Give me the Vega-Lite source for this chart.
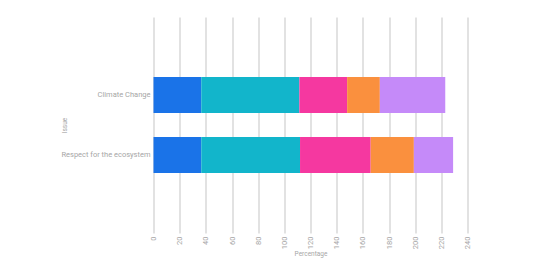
{
  "$schema": "https://vega.github.io/schema/vega-lite/v6.json",
  "width": 314,
  "height": 216,
  "autosize": {"type": "none"},
  "padding": {"left": 153.5, "top": 17, "right": 65.5, "bottom": 28},
  "background": "white",
  "config": {
    "view": {"stroke": null},
    "font": "Roboto",
    "axis": {"labelFont": "Roboto", "titleFont": "Roboto", "labelColor": "#a6a6a6", "titleColor": "#a6a6a6", "labelFontSize": 7.5, "titleFontSize": 6.5, "titleFontWeight": "normal"}
  },
  "data": {
    "values": [
      {"issue": "Climate Change", "series": "A", "order": 1, "value": 36.5},
      {"issue": "Climate Change", "series": "B", "order": 2, "value": 75},
      {"issue": "Climate Change", "series": "C", "order": 3, "value": 36.5},
      {"issue": "Climate Change", "series": "D", "order": 4, "value": 25},
      {"issue": "Climate Change", "series": "E", "order": 5, "value": 50},
      {"issue": "Respect for the ecosystem", "series": "A", "order": 1, "value": 36.5},
      {"issue": "Respect for the ecosystem", "series": "B", "order": 2, "value": 75.5},
      {"issue": "Respect for the ecosystem", "series": "C", "order": 3, "value": 54},
      {"issue": "Respect for the ecosystem", "series": "D", "order": 4, "value": 33},
      {"issue": "Respect for the ecosystem", "series": "E", "order": 5, "value": 30}
    ]
  },
  "mark": {"type": "bar"},
  "encoding": {
    "y": {
      "field": "issue", "type": "nominal", "title": "Issue",
      "scale": {"paddingInner": 0.4, "paddingOuter": 1.0},
      "axis": {"domain": false, "ticks": false, "labelPadding": 3.5, "titlePadding": -7}
    },
    "x": {
      "field": "value", "type": "quantitative", "aggregate": "sum", "stack": "zero", "title": "Percentage",
      "scale": {"domain": [0, 240], "nice": false},
      "axis": {"values": [0,20,40,60,80,100,120,140,160,180,200,220,240], "domain": false, "ticks": false, "labelAngle": -90, "labelPadding": 3, "titlePadding": 2, "gridColor": "#d9d9d9", "gridWidth": 1.5}
    },
    "color": {
      "field": "series", "type": "nominal", "legend": null,
      "scale": {"domain": ["A","B","C","D","E"], "range": ["#1a73e8", "#12b5cb", "#f538a0", "#fa903e", "#c58af9"]}
    },
    "order": {"field": "order", "type": "quantitative"}
  }
}
